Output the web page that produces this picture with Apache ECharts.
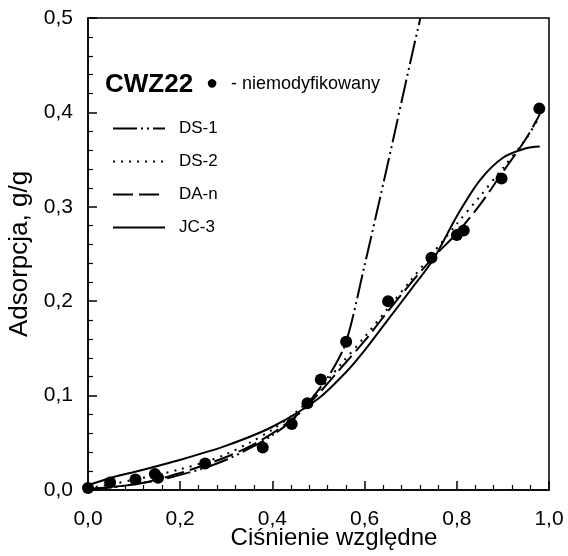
<!DOCTYPE html>
<html>
<head>
<meta charset="utf-8">
<script src="https://cdn.jsdelivr.net/npm/echarts@6/dist/echarts.min.js"></script>
<style>
  html, body { margin: 0; padding: 0; background: #fff; }
  #chart { width: 568px; height: 556px; }
</style>
</head>
<body>
<div id="chart"></div>
<script>
  // punkty pomiarowe (niemodyfikowany)
  let pointsX = [0.0, 0.048, 0.103, 0.145, 0.152, 0.254, 0.379, 0.442, 0.476, 0.505, 0.56, 0.651, 0.745, 0.80, 0.815, 0.897, 0.979]
  let pointsY = [0.002, 0.008, 0.011, 0.017, 0.013, 0.028, 0.045, 0.070, 0.092, 0.117, 0.157, 0.200, 0.246, 0.270, 0.275, 0.330, 0.404]

  // DS-1
  let ds1X = [0, 0.05, 0.1, 0.15, 0.2, 0.25, 0.3, 0.35, 0.4, 0.45, 0.5, 0.53, 0.56, 0.6, 0.65, 0.7, 0.721]
  let ds1Y = [0.001, 0.003, 0.006, 0.010, 0.016, 0.023, 0.032, 0.044, 0.058, 0.077, 0.106, 0.127, 0.157, 0.238, 0.345, 0.455, 0.5]
  // DS-2
  let ds2X = [0, 0.05, 0.1, 0.15, 0.2, 0.25, 0.3, 0.35, 0.4, 0.45, 0.5, 0.55, 0.6, 0.65, 0.7, 0.75, 0.8, 0.85, 0.9, 0.95, 0.98]
  let ds2Y = [0.002, 0.006, 0.011, 0.016, 0.022, 0.029, 0.038, 0.050, 0.064, 0.082, 0.105, 0.134, 0.162, 0.192, 0.222, 0.252, 0.282, 0.311, 0.341, 0.372, 0.396]
  // DA-n
  let danX = [0, 0.05, 0.1, 0.15, 0.2, 0.25, 0.3, 0.35, 0.4, 0.45, 0.5, 0.55, 0.6, 0.65, 0.7, 0.75, 0.8, 0.85, 0.9, 0.95, 0.98]
  let danY = [0.001, 0.003, 0.006, 0.011, 0.018, 0.026, 0.035, 0.046, 0.060, 0.078, 0.102, 0.130, 0.158, 0.189, 0.219, 0.247, 0.272, 0.302, 0.337, 0.372, 0.398]
  // JC-3
  let jc3X = [0, 0.05, 0.1, 0.2, 0.3, 0.4, 0.5, 0.56, 0.6, 0.65, 0.7, 0.75, 0.8, 0.85, 0.9, 0.95, 0.98]
  let jc3Y = [0.005, 0.013, 0.019, 0.032, 0.047, 0.067, 0.097, 0.125, 0.148, 0.180, 0.212, 0.245, 0.290, 0.328, 0.352, 0.362, 0.364]

  function pairs(xs, ys){
    return xs.map(function(x, i){ return [x, ys[i]] })
  }
  function comma(v){
    return v.toFixed(1).replace('.', ',')
  }

  let font = 'Liberation Sans, Arial, sans-serif'
  let chart = echarts.init(document.getElementById('chart'))

  let lineSeries = function(name, xs, ys, type){
    return {
      name: name,
      type: 'line',
      data: pairs(xs, ys),
      smooth: 0.3,
      symbol: 'none',
      clip: true,
      itemStyle: { color: '#000' },
      lineStyle: { color: '#000', width: 2, type: type }
    }
  }

  let option = {
    animation: false,
    backgroundColor: '#fff',
    grid: {
      left: 88, right: 19, top: 18, bottom: 66,
      outerBoundsMode: 'none',
      containLabel: false,
      show: true, borderColor: '#000', borderWidth: 1.5
    },
    legend: {
      data: ['DS-1', 'DS-2', 'DA-n', 'JC-3'],
      orient: 'vertical',
      left: 112,
      top: 120,
      padding: 0,
      itemWidth: 52,
      itemHeight: 14,
      itemGap: 16,
      itemStyle: { opacity: 0 },
      textStyle: { color: '#000', fontSize: 17, fontFamily: font, padding: [0, 0, 0, 9] }
    },
    xAxis: {
      type: 'value',
      min: 0, max: 1, interval: 0.2,
      axisLine: { lineStyle: { color: '#000', width: 1.5 } },
      axisTick: { inside: true, length: 9, lineStyle: { color: '#000', width: 1.5 } },
      minorTick: { show: true, splitNumber: 5, length: 5, lineStyle: { color: '#000', width: 1.2 } },
      splitLine: { show: false },
      axisLabel: { color: '#000', fontSize: 21, fontFamily: font, margin: 19, formatter: function(v){ return comma(v) } }
    },
    yAxis: {
      type: 'value',
      min: 0, max: 0.5, interval: 0.1,
      name: 'Adsorpcja, g/g',
      nameLocation: 'middle',
      nameGap: 52,
      nameTextStyle: { color: '#000', fontSize: 26, fontFamily: font },
      axisLine: { lineStyle: { color: '#000', width: 1.5 } },
      axisTick: { inside: true, length: 9, lineStyle: { color: '#000', width: 1.5 } },
      minorTick: { show: true, splitNumber: 5, length: 5, lineStyle: { color: '#000', width: 1.2 } },
      splitLine: { show: false },
      axisLabel: { color: '#000', fontSize: 21, fontFamily: font, margin: 15, formatter: function(v){ return comma(v) } }
    },
    graphic: [
      { type: 'text', left: 105, top: 72, style: { text: 'CWZ22', fill: '#000', font: 'bold 26px ' + font } },
      { type: 'text', left: 206, top: 73, style: { text: '●', fill: '#000', font: '20px ' + font } },
      { type: 'text', left: 231, top: 75, style: { text: '- niemodyfikowany', fill: '#000', font: '18px ' + font } },
      { type: 'text', x: 334, y: 526, style: { text: 'Ciśnienie względne', fill: '#000', font: '24px ' + font, align: 'center', verticalAlign: 'top' } }
    ],
    series: [
      lineSeries('DS-1', ds1X, ds1Y, [24, 4, 2, 4, 2, 4]),
      lineSeries('DS-2', ds2X, ds2Y, [2, 6]),
      lineSeries('DA-n', danX, danY, [20, 6]),
      lineSeries('JC-3', jc3X, jc3Y, 'solid'),
      {
        name: 'niemodyfikowany',
        type: 'scatter',
        data: pairs(pointsX, pointsY),
        symbol: 'circle',
        symbolSize: 12,
        itemStyle: { color: '#000', opacity: 1 }
      }
    ]
  }
  chart.setOption(option)
</script>
</body>
</html>
